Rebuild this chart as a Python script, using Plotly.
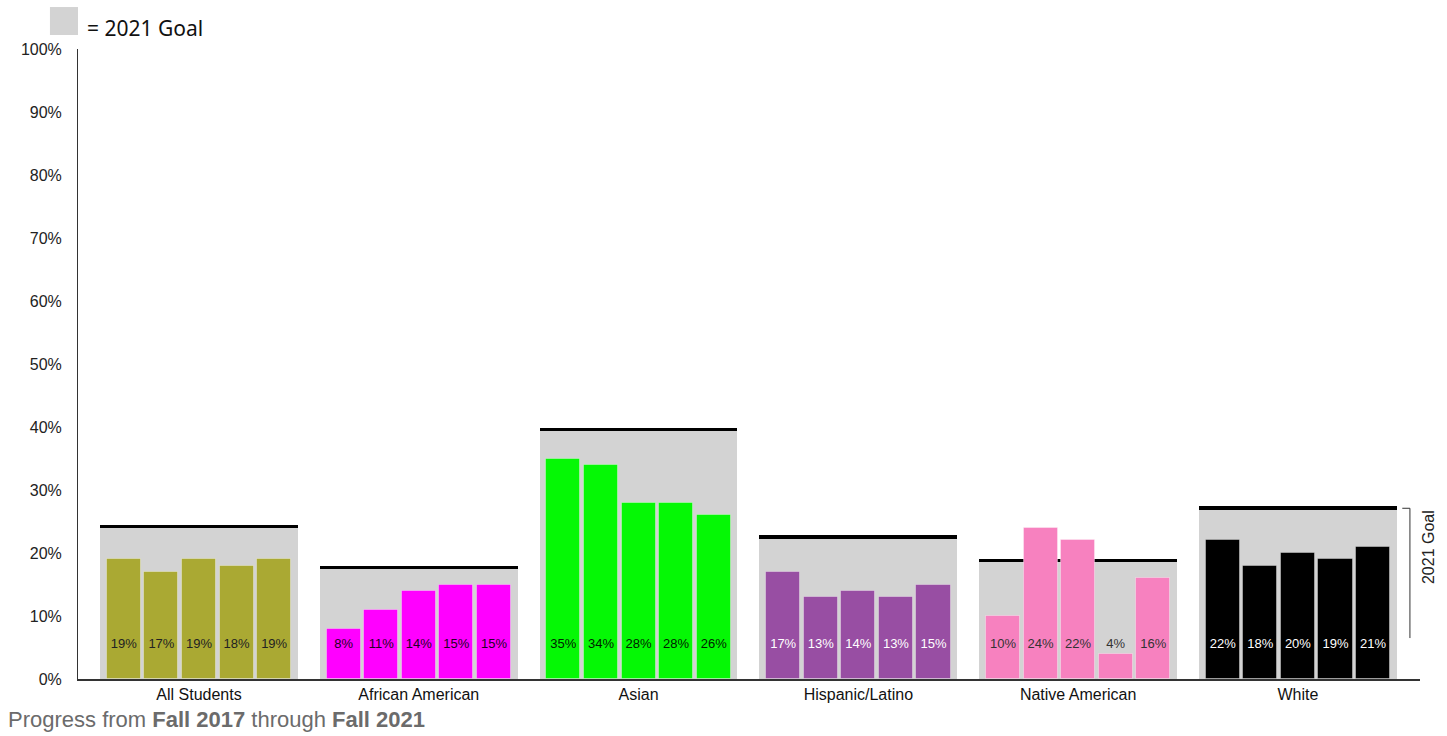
import plotly.graph_objects as go

# Groups, years and the share of students per group and year (percent)
groups = ["All Students", "African American", "Asian", "Hispanic/Latino", "Native American", "White"]
years = ["Fall 2017", "Fall 2018", "Fall 2019", "Fall 2020", "Fall 2021"]
values = {
    "Fall 2017": [19, 8, 35, 17, 10, 22],
    "Fall 2018": [17, 11, 34, 13, 24, 18],
    "Fall 2019": [19, 14, 28, 14, 22, 20],
    "Fall 2020": [18, 15, 28, 13, 4, 19],
    "Fall 2021": [19, 15, 26, 15, 16, 21],
}
goal_2021 = [24.2, 17.7, 39.6, 22.6, 18.8, 27.1]

group_colors = ["#aaa933", "#ff00ff", "#05f805", "#984ea3", "#f781bf", "#000000"]
label_colors = ["#222222", "#220022", "#002200", "#ffffff", "#333333", "#ffffff"]
y_ticks = list(range(0, 101, 10))

FONT = "Arial, Liberation Sans, sans-serif"
GOAL_GRAY = "#d3d3d3"

panel_w = 0.9       # width of the grey goal panel (category units)
bar_w = 0.155       # width of each year bar
bar_step = 0.171    # distance between neighbouring year bars
label_y = 5.4       # height of the in-bar percentage labels
goal_line_h = 0.6   # thickness of the black goal line (percent units)

x_idx = list(range(len(groups)))

fig = go.Figure()

# Grey goal panels
fig.add_trace(go.Bar(
    x=x_idx, y=goal_2021, width=panel_w,
    marker=dict(color=GOAL_GRAY, line=dict(width=0)),
    hoverinfo="skip", showlegend=False,
))
# Black goal lines centred on each goal value
fig.add_trace(go.Bar(
    x=x_idx, y=[goal_line_h] * len(groups),
    base=[g - goal_line_h / 2 for g in goal_2021], width=panel_w,
    marker=dict(color="#000000", line=dict(width=0)),
    hoverinfo="skip", showlegend=False,
))

# Yearly bars and their labels
for j, yr in enumerate(years):
    off = (j - 2) * bar_step
    fig.add_trace(go.Bar(
        x=x_idx, y=values[yr], width=bar_w, offset=off - bar_w / 2,
        marker=dict(color=group_colors,
                    line=dict(color="rgba(255,255,255,0.35)", width=1)),
        name=yr, showlegend=False,
    ))
    fig.add_trace(go.Scatter(
        x=[i + off for i in x_idx], y=[label_y] * len(groups),
        mode="text", text=[f"{v}%" for v in values[yr]],
        textfont=dict(family=FONT, size=13, color=label_colors),
        hoverinfo="skip", showlegend=False,
    ))

shapes = [
    # legend swatch
    dict(type="rect", xref="paper", yref="paper",
         x0=-0.0209, x1=0.0, y0=1.0222, y1=1.0666,
         fillcolor=GOAL_GRAY, line=dict(width=0)),
    # bracket marking the goal on the right
    dict(type="line", xref="paper", yref="y",
         x0=0.9925, x1=0.9925, y0=goal_2021[-1], y1=6.5,
         line=dict(color="#333333", width=1)),
    dict(type="line", xref="paper", yref="y",
         x0=0.9868, x1=0.9925, y0=goal_2021[-1], y1=goal_2021[-1],
         line=dict(color="#333333", width=1)),
]

annotations = [
    dict(text="= 2021 Goal", xref="paper", yref="paper", x=0.0052, y=1.0333,
         xanchor="left", yanchor="middle", showarrow=False,
         font=dict(family="Noto Sans", size=21, color="#111111")),
    dict(text="2021 Goal", xref="paper", yref="y", x=1.0065, y=20.9,
         xanchor="center", yanchor="middle", textangle=-90, showarrow=False,
         font=dict(family=FONT, size=16, color="#222222")),
    dict(text="Progress from <b>Fall 2017</b> through <b>Fall 2021</b>",
         xref="paper", yref="paper", x=-0.054, y=-0.0646,
         xanchor="left", yanchor="middle", showarrow=False,
         font=dict(family=FONT, size=22, color="#6b6b6b")),
]

fig.update_layout(
    width=1447, height=736,
    margin=dict(l=78, r=27, t=49, b=57),
    paper_bgcolor="white", plot_bgcolor="white",
    barmode="overlay", bargap=0,
    shapes=shapes, annotations=annotations,
    xaxis=dict(
        range=[-0.5505, 5.5555], tickmode="array", tickvals=x_idx, ticktext=groups,
        showgrid=False, zeroline=False, showline=True, linecolor="#333333", linewidth=2,
        ticks="", tickfont=dict(family=FONT, size=16, color="#111111"),
        fixedrange=True,
    ),
    yaxis=dict(
        range=[0, 100], tickmode="array", tickvals=y_ticks,
        ticktext=[f"{t}%" for t in y_ticks],
        showgrid=False, zeroline=False, showline=True, linecolor="#333333", linewidth=1,
        ticks="", ticklabelstandoff=12,
        tickfont=dict(family=FONT, size=16, color="#222222"),
        fixedrange=True,
    ),
)

fig.write_html("out.html")
